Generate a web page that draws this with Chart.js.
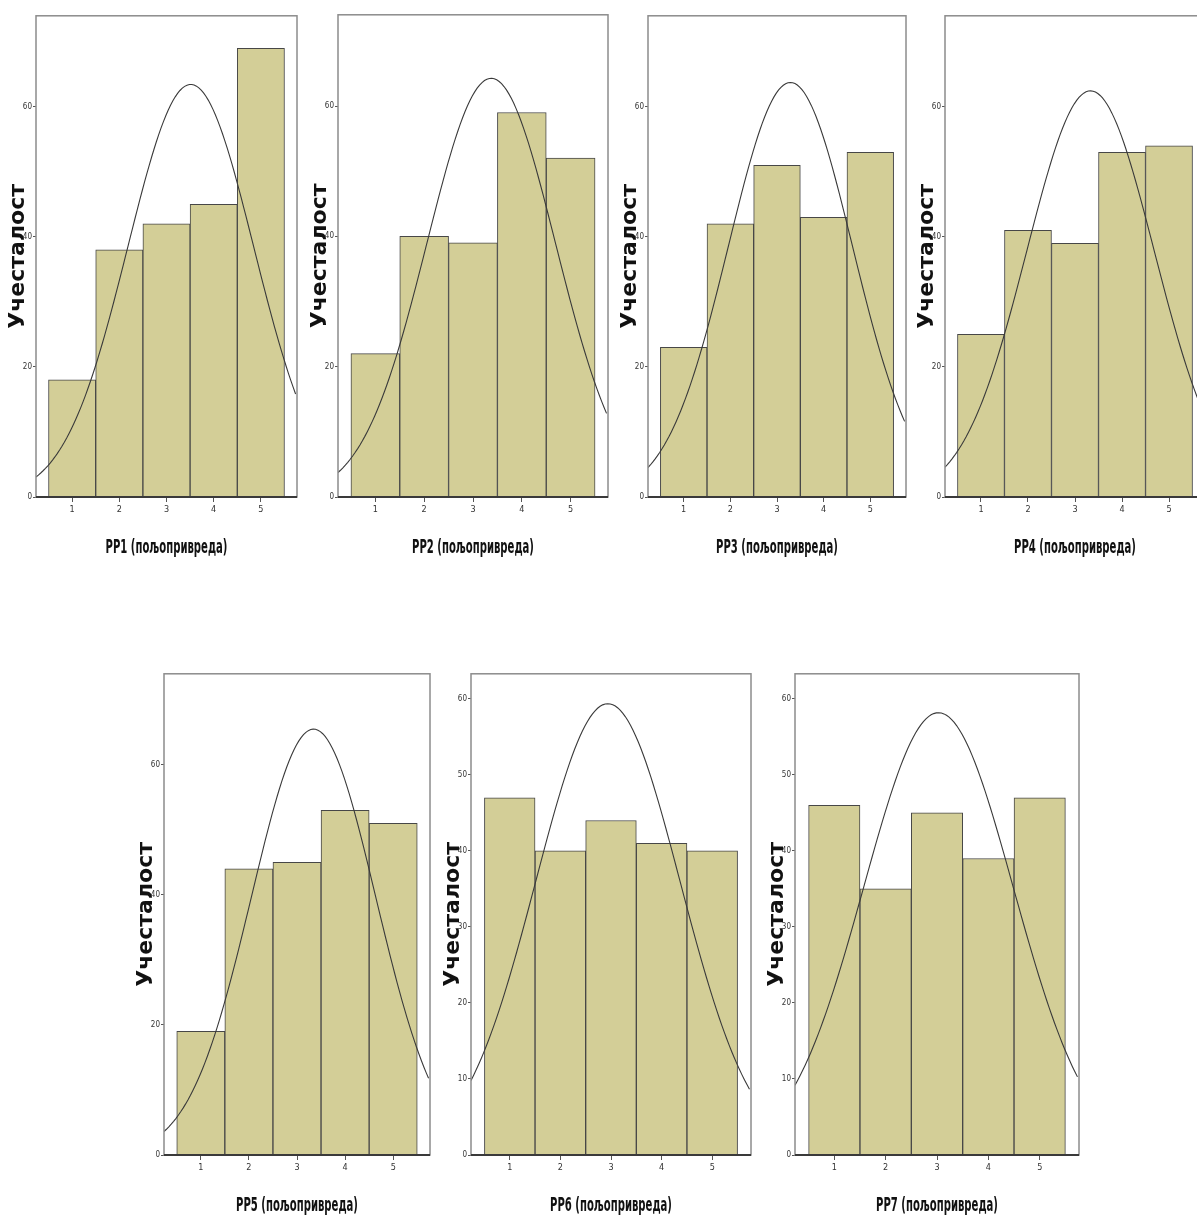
<!DOCTYPE html>
<html>
<head>
<title>PP histograms</title>
<script src="https://cdn.jsdelivr.net/npm/chart.js@4.4.1/dist/chart.umd.min.js"></script>
<style>
  body { margin: 0; background: #fff; }
  #wrap { position: relative; width: 1197px; height: 1216px; overflow: hidden; }
  #wrap canvas { position: absolute; }
</style>
</head>
<body>
<div id="wrap"></div>

<script>
// answer categories (1..5) and counts
var categories = [1, 2, 3, 4, 5];
var pp1 = [18, 38, 42, 45, 69];
var pp2 = [22, 40, 39, 59, 52];
var pp3 = [23, 42, 51, 43, 53];
var pp4 = [25, 41, 39, 53, 54];
var pp5 = [19, 44, 45, 53, 51];
var pp6 = [47, 40, 44, 41, 40];
var pp7 = [46, 35, 45, 39, 47];

var xTitles = ['PP1 (пољопривреда)', 'PP2 (пољопривреда)', 'PP3 (пољопривреда)', 'PP4 (пољопривреда)',
               'PP5 (пољопривреда)', 'PP6 (пољопривреда)', 'PP7 (пољопривреда)'];
var yTitle = 'Учесталост';
var yMax = [74, 74, 74, 74, 74, 63.3, 63.3];
var yStep = [20, 20, 20, 20, 20, 10, 10];

var series = [pp1, pp2, pp3, pp4, pp5, pp6, pp7];

// plot boxes on the page (left, top, right, bottom)
var boxes = [
    [36, 14, 297, 497],
    [338, 13, 608, 497],
    [648, 14, 906, 497],
    [945, 14, 1205, 497],
    [164, 672, 430, 1155],
    [471, 672, 751, 1155],
    [795, 672, 1079, 1155]
];

var X_MIN = 0.235, X_MAX = 5.765;
var narrow = '"Liberation Sans Narrow", "DejaVu Sans Condensed", "Arial Narrow", sans-serif';

// SPSS style normal curve fitted to the counts (mean, sd, n of the answers)
function normalCurve(counts) {
    var n = 0, sum = 0;
    for (var i = 0; i < counts.length; i++) { n += counts[i]; sum += counts[i] * categories[i]; }
    var mean = sum / n;
    var ss = 0;
    for (var i = 0; i < counts.length; i++) ss += counts[i] * Math.pow(categories[i] - mean, 2);
    var sd = Math.sqrt(ss / (n - 1));
    var pts = [];
    for (var x = X_MIN; x <= X_MAX + 1e-9; x += 0.05) {
        var y = n / (sd * Math.sqrt(2 * Math.PI)) * Math.exp(-0.5 * Math.pow((x - mean) / sd, 2));
        pts.push({x: x, y: y});
    }
    return pts;
}

var boxBorder = {
    id: 'boxBorder',
    afterDraw: function (chart) {
        var a = chart.chartArea, ctx = chart.ctx;
        ctx.save();
        ctx.strokeStyle = '#8c8c8c';
        ctx.lineWidth = 1.5;
        ctx.strokeRect(a.left, a.top, a.right - a.left, a.bottom - a.top);
        ctx.strokeStyle = '#3a3a3a';
        ctx.lineWidth = 2;
        ctx.beginPath();
        ctx.moveTo(a.left, a.bottom);
        ctx.lineTo(a.right, a.bottom);
        ctx.stroke();
        ctx.restore();
    }
};

// x title in a condensed face (SPSS output was squeezed horizontally)
var narrowTitle = {
    id: 'narrowTitle',
    afterDraw: function (chart, args, opts) {
        var s = chart.scales.x, ctx = chart.ctx;
        var cx = (s.left + s.right) / 2;
        ctx.save();
        ctx.translate(cx, s.top + 51);
        ctx.scale(0.56, 1);
        ctx.font = 'bold 20px ' + narrow;
        ctx.fillStyle = '#111';
        ctx.textAlign = 'center';
        ctx.textBaseline = 'middle';
        ctx.fillText(opts.text, 0, 0);
        ctx.restore();
    }
};

var PAD_L = 36, PAD_T = 4, PAD_R = 4, PAD_B = 62;
var wrap = document.getElementById('wrap');

series.forEach(function (vals, k) {
    var b = boxes[k];
    var c = document.createElement('canvas');
    c.width = (b[2] - b[0]) + PAD_L + PAD_R;
    c.height = (b[3] - b[1]) + PAD_T + PAD_B;
    c.style.left = (b[0] - PAD_L) + 'px';
    c.style.top = (b[1] - PAD_T) + 'px';
    wrap.appendChild(c);

    new Chart(c, {
        type: 'bar',
        data: {
            datasets: [
                {
                    type: 'line',
                    data: normalCurve(vals),
                    borderColor: '#3a3a3a',
                    borderWidth: 1.1,
                    pointRadius: 0,
                    fill: false,
                    order: 0
                },
                {
                    type: 'bar',
                    data: categories.map(function (cat, i) { return {x: cat, y: vals[i]}; }),
                    backgroundColor: '#d3ce97',
                    borderColor: '#474747',
                    borderWidth: 1,
                    categoryPercentage: 1,
                    barPercentage: 1,
                    order: 1
                }
            ]
        },
        options: {
            responsive: false,
            animation: false,
            layout: {padding: {top: PAD_T, right: PAD_R, left: 0, bottom: 0}},
            plugins: {
                legend: {display: false},
                tooltip: {enabled: false},
                narrowTitle: {text: xTitles[k]}
            },
            scales: {
                x: {
                    type: 'linear',
                    min: X_MIN,
                    max: X_MAX,
                    offset: false,
                    afterFit: function (s) { s.height = PAD_B; },
                    grid: {display: true, offset: false, drawOnChartArea: false, tickLength: 5, color: '#555'},
                    border: {display: false},
                    ticks: {stepSize: 1, includeBounds: false, padding: 2, color: '#333',
                            font: {size: 9, family: narrow}},
                    title: {display: false}
                },
                y: {
                    min: 0,
                    max: yMax[k],
                    afterFit: function (s) { s.width = PAD_L; },
                    grid: {display: true, drawOnChartArea: false, tickLength: 3, color: '#555'},
                    border: {display: false},
                    ticks: {stepSize: yStep[k], includeBounds: false, padding: 1, color: '#333',
                            font: {size: 8, family: narrow}},
                    title: {display: true, text: yTitle, color: '#111', padding: {top: 7, bottom: 0},
                            font: {size: 22, weight: 'bold', family: '"DejaVu Sans", sans-serif', lineHeight: 1}}
                }
            }
        },
        plugins: [boxBorder, narrowTitle]
    });
});
</script>
</body>
</html>
